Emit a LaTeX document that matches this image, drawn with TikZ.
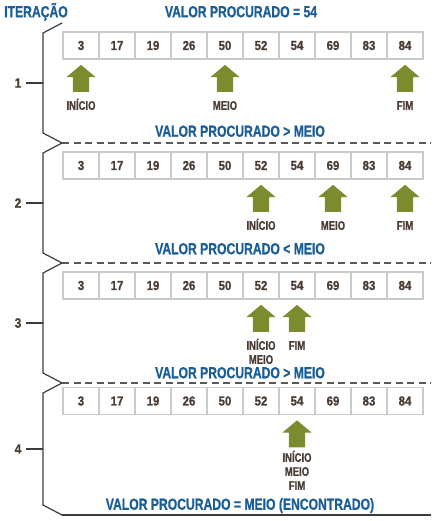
\documentclass[tikz,border=0pt]{standalone}
\usepackage{fontspec}
\setmainfont{Liberation Sans Bold}[FakeStretch=0.76,FakeBold=0.8]
\newfontfamily\bsDigits{Liberation Sans Bold}[FakeStretch=0.88,FakeBold=0.8]
\usetikzlibrary{shapes.arrows,positioning}
\definecolor{bsInk}{HTML}{4A3C34}
\definecolor{bsBlue}{HTML}{1B5E96}
\definecolor{bsGreen}{HTML}{7A8C2E}
\definecolor{bsGrid}{HTML}{CACACA}
\definecolor{bsRule}{HTML}{3C3C3C}
\tikzset{
  bsCell/.style={draw=bsGrid,fill=white,line width=1.2pt,minimum width=36pt,
    minimum height=27pt,inner sep=0pt,text=bsInk,font=\bsDigits\fontsize{13}{13}\selectfont},
  bsPointer/.style={single arrow,fill=bsGreen,shape border rotate=90,
    minimum height=27pt,minimum width=29pt,inner xsep=8pt,inner ysep=0pt,
    single arrow head extend=6.5pt,single arrow tip angle=100},
  bsLabel/.style={align=center,inner sep=0pt,text=bsInk,
    font=\fontsize{12.5}{14}\selectfont,execute at begin node=\vphantom{Í}},
  bsHeader/.style={inner sep=0pt,text height=11.5pt,text depth=0pt,text=bsBlue,
    font=\fontsize{16}{16}\selectfont},
  bsRuleLine/.style={draw=bsRule,line width=1.2pt}
}

\begin{document}
\begin{tikzpicture}[x=1pt,y=-1pt,
  bracket/.style={bsRuleLine,line join=miter},
  sep/.style={draw=bsRule!85,line width=1.2pt,dash pattern=on 7pt off 4.5pt},
  step no/.style={inner sep=4pt,text=bsInk,font=\bsDigits\fontsize{13.5}{13.5}\selectfont}]
\useasboundingbox (0,0) rectangle (437,521);
\node[bsHeader] (title) at (36,11.5) {ITERAÇÃO};
\node[bsHeader] (target) at (241,11.5) {VALOR PROCURADO = 54};
\node[bsHeader] (cmp1) at (240,131) {VALOR PROCURADO > MEIO};
\node[bsHeader] (cmp2) at (240,248.5) {VALOR PROCURADO < MEIO};
\node[bsHeader] (cmp3) at (240,372.5) {VALOR PROCURADO > MEIO};
\node[bsHeader] (found) at (240,504) {VALOR PROCURADO = MEIO (ENCONTRADO)};
% brackets, one per iteration
\foreach \n/\t/\b in {1/23/143,2/143/263,3/263/383,4/383/515}{
  \draw[bracket] (62,\t) -- (43,\t+10) -- (43,\b-10) -- (62,\b);
  \coordinate (b\n) at (43,{(\t+\b)/2});
  \node[step no] (it\n) at (18,{(\t+\b)/2}) {\n};
  \draw[bsRuleLine] (it\n) -- (b\n);
}
\foreach \y in {143,263,383}
  \draw[sep] (62,\y) -- (431,\y);
\draw[bracket] (62,515) -- (431,515);
% arrays
\foreach \r/\y in {1/45.5,2/165.5,3/285.5,4/401}
  \foreach \v [count=\c] in {3,17,19,26,50,52,54,69,83,84}
    \node[bsCell] (r\r-\c) at (45+36*\c,\y) {\v};
% pointers
\foreach \r/\c/\txt/\gap in {1/1/INÍCIO/6.5,1/5/MEIO/6.5,1/10/FIM/6.5,
    2/6/INÍCIO/6.5,2/8/MEIO/6.5,2/10/FIM/6.5,
    3/6/{INÍCIO\\MEIO}/6.5,3/7/FIM/6.5,4/7/{INÍCIO\\MEIO\\FIM}/3}{
  \node[bsPointer,below=5pt of r\r-\c,anchor=tip] (p\r-\c) {};
  \node[bsLabel,below=\gap pt of p\r-\c.tail] (l\r-\c) {\txt};
}
\end{tikzpicture}
\end{document}
